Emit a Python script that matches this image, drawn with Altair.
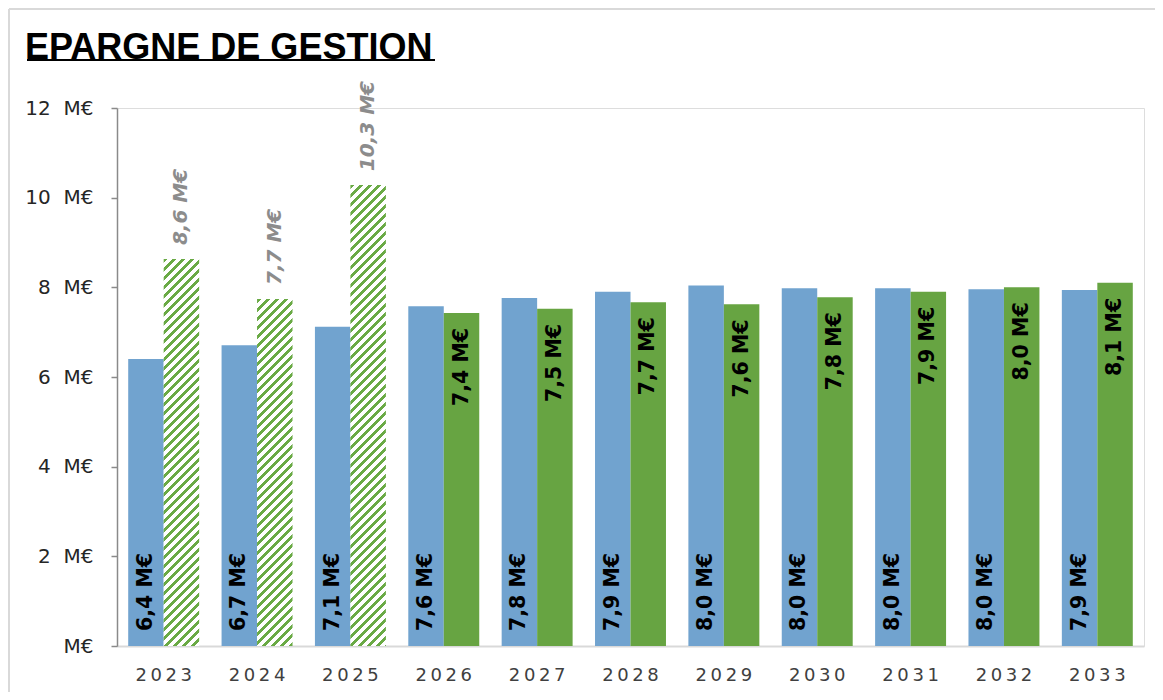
import altair as alt
import pandas as pd

# ---- data ----
years = ["2023", "2024", "2025", "2026", "2027", "2028", "2029", "2030", "2031", "2032", "2033"]
blue_values = [6.40, 6.71, 7.12, 7.58, 7.76, 7.90, 8.04, 7.98, 7.98, 7.96, 7.94]
green_values = [8.63, 7.74, 10.28, 7.43, 7.52, 7.67, 7.62, 7.78, 7.90, 8.00, 8.10]
hatched_years = ["2023", "2024", "2025"]
series_names = ["Série 1", "Série 2"]
y_ticks = [0, 2, 4, 6, 8, 10, 12]
title_text = "EPARGNE DE GESTION"

# ---- styles ----
BLUE = "#71A3CF"
GREEN = "#67A442"
HATCH_GREEN = "#6AAA45"
PLOT_W = 1027
PLOT_H = 538
Y_MAX = 12
PAD_INNER = 0.24
PAD_OUTER = 0.12


def fmt(v):
    return f"{v:.1f}".replace(".", ",") + " M€"


rows = []
for i, yr in enumerate(years):
    rows.append({"year": yr, "series": series_names[0], "value": blue_values[i],
                 "label": fmt(blue_values[i]), "hatched": False})
    rows.append({"year": yr, "series": series_names[1], "value": green_values[i],
                 "label": fmt(green_values[i]), "hatched": yr in hatched_years})
df = pd.DataFrame(rows)

step = PLOT_W / (len(years) - PAD_INNER + 2 * PAD_OUTER)
BAR_W = step * (1 - PAD_INNER) / 2


def hatch(v, period=9.0, frac=0.45):
    h = v * PLOT_H / Y_MAX
    r = BAR_W / h
    k = (r + 1) / (r * r + 1)
    n = (BAR_W + h) / period
    stops = []
    i = 0
    while i / n < 1:
        a = round(i / n, 5)
        b = round(min((i + frac) / n, 1), 5)
        c = round(min((i + 1) / n, 1), 5)
        stops += [{"offset": a, "color": HATCH_GREEN}, {"offset": b, "color": HATCH_GREEN},
                  {"offset": b, "color": "#ffffff"}, {"offset": c, "color": "#ffffff"}]
        i += 1
    return {"gradient": "linear", "x1": 0, "y1": 0, "x2": round(k * r, 5), "y2": round(k, 5),
            "stops": stops}


x_enc = alt.X(
    "year:N", sort=years, title=None,
    scale=alt.Scale(paddingInner=PAD_INNER, paddingOuter=PAD_OUTER),
    axis=alt.Axis(
        labelAngle=0, ticks=False, tickSize=0, domainColor="#d9d9d9", domainWidth=2,
        labelFont="DejaVu Sans", labelFontSize=18, labelColor="#404040", labelPadding=20,
        labelExpr="join(split(datum.label, ''), '\u2009')",
    ),
)
xo_enc = alt.XOffset("series:N", scale=alt.Scale(domain=series_names, paddingInner=0, paddingOuter=0))
y_enc = alt.Y(
    "value:Q", title=None,
    scale=alt.Scale(domain=[0, Y_MAX], nice=False),
    axis=alt.Axis(
        values=y_ticks, grid=False, domainColor="#8a8a8a", domainWidth=1.5, tickColor="#8a8a8a",
        tickWidth=1.5, tickSize=6, labelFont="DejaVu Sans", labelFontSize=20, labelColor="#262626",
        labelPadding=18,
        labelExpr="datum.value == 0 ? 'M€' : datum.value + '\u00a0 M€'",
    ),
)

base = alt.Chart(df)

bars = base.transform_filter("!datum.hatched").mark_bar().encode(
    x=x_enc, xOffset=xo_enc, y=y_enc,
    color=alt.Color("series:N", scale=alt.Scale(domain=series_names, range=[BLUE, GREEN]), legend=None),
)

hatch_layers = []
for yr in hatched_years:
    v = green_values[years.index(yr)]
    hatch_layers.append(
        base.transform_filter(f"datum.hatched && datum.year == '{yr}'")
        .mark_bar(fill=hatch(v))
        .encode(x=x_enc, xOffset=xo_enc, y=y_enc)
    )

blue_labels = base.transform_filter(f"datum.series == '{series_names[0]}'").mark_text(
    angle=270, align="left", baseline="middle", yOffset=-15,
    font="DejaVu Sans", fontSize=20.5, fontWeight="bold", color="#000000",
).encode(x=x_enc, xOffset=xo_enc, y=alt.datum(0), text="label:N")

green_labels = base.transform_filter(
    f"datum.series == '{series_names[1]}' && !datum.hatched").mark_text(
    angle=270, align="right", baseline="middle", yOffset=15,
    font="DejaVu Sans", fontSize=20.5, fontWeight="bold", color="#000000",
).encode(x=x_enc, xOffset=xo_enc, y=y_enc, text="label:N")

hatch_labels = base.transform_filter("datum.hatched").mark_text(
    angle=270, align="left", baseline="middle", yOffset=-14,
    font="DejaVu Sans", fontSize=20, fontStyle="italic", fontWeight="bold", color="#8c8c8c",
).encode(x=x_enc, xOffset=xo_enc, y=y_enc, text="label:N")

one = alt.Chart(pd.DataFrame({"k": [0]}))
frame_top = one.mark_rule(color="#d9d9d9", strokeWidth=2).encode(
    x=alt.value(-108), x2=alt.value(PLOT_W + 40), y=alt.value(-99))
frame_left = one.mark_rule(color="#d9d9d9", strokeWidth=2).encode(
    x=alt.value(-108), y=alt.value(-99), y2=alt.value(PLOT_H + 60))
underline = one.mark_rule(color="#000000", strokeWidth=2).encode(
    x=alt.value(-90), x2=alt.value(318), y=alt.value(-48))

chart = alt.layer(frame_top, frame_left, bars, *hatch_layers, blue_labels, green_labels,
                  hatch_labels, underline).properties(
    width=PLOT_W, height=PLOT_H,
    autosize=alt.AutoSizeParams(type="none"),
    padding={"left": 109, "top": 100, "right": 11, "bottom": 46},
    title=alt.TitleParams(
        title_text, anchor="start", frame="group", font="Liberation Sans", fontSize=36,
        fontWeight="bold", color="#000000", baseline="alphabetic", dx=-92, offset=0, dy=87,
    ),
).configure_view(stroke=None).configure(background="#ffffff")

chart.save("out.html", embed_options={"renderer": "svg", "actions": False})
